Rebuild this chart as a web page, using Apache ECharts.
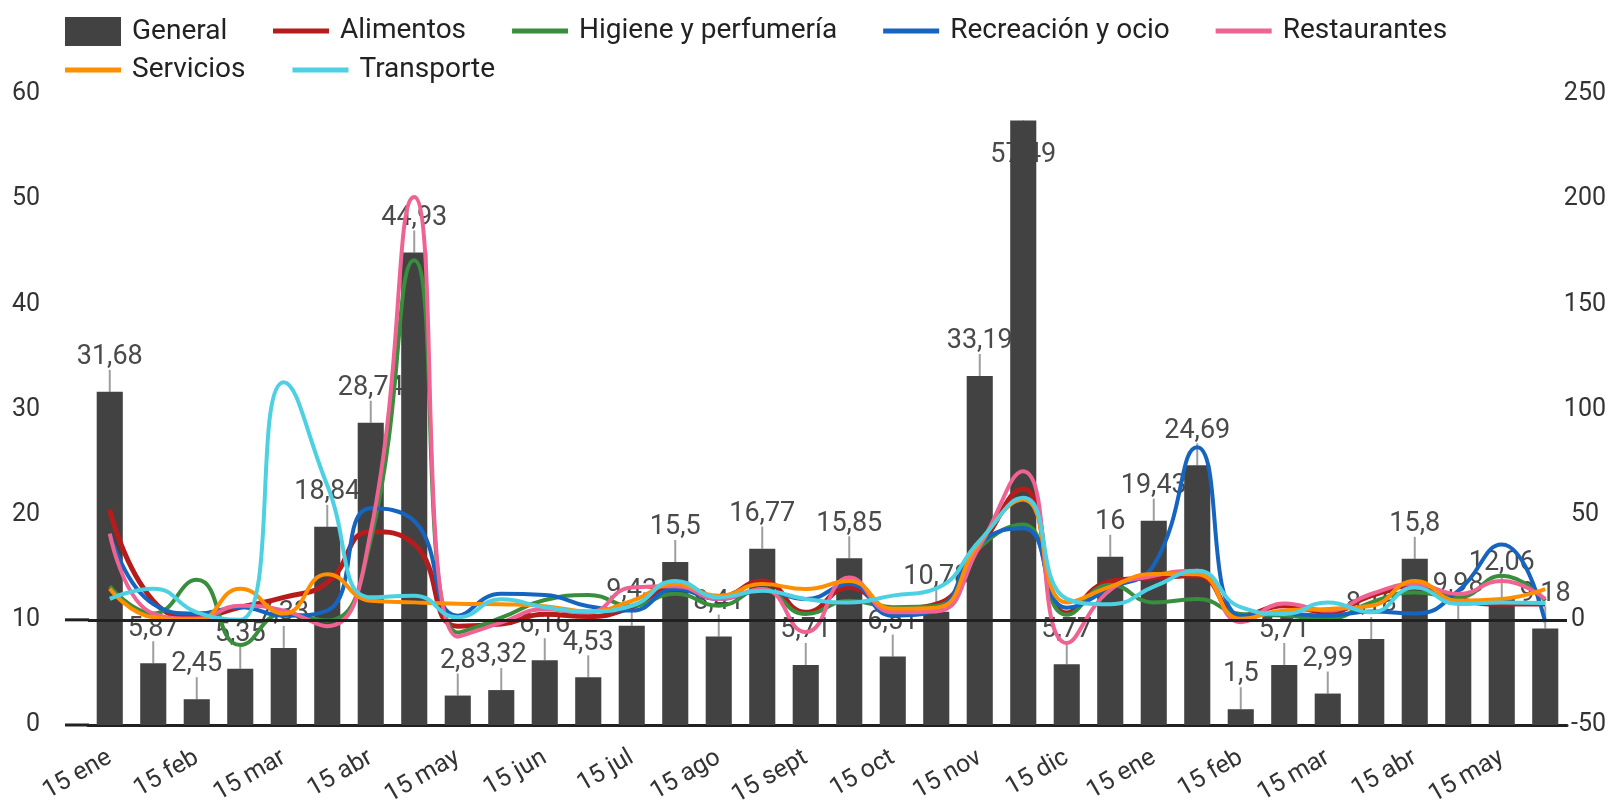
<!DOCTYPE html>
<html>
<head>
<meta charset="utf-8">
<script src="https://cdn.jsdelivr.net/npm/echarts@6/dist/echarts.min.js"></script>
<style>
  html, body { margin: 0; background: #fff; }
  #chart { width: 1612px; height: 800px; }
</style>
</head>
<body>
<div id="chart"></div>
<script>
// quincenas, etiqueta visible cada 2
const categories = ["15 ene", "1 feb", "15 feb", "1 mar", "15 mar", "1 abr", "15 abr", "1 may", "15 may", "1 jun",
  "15 jun", "1 jul", "15 jul", "1 ago", "15 ago", "1 sept", "15 sept", "1 oct", "15 oct", "1 nov",
  "15 nov", "1 dic", "15 dic", "1 ene", "15 ene", "1 feb", "15 feb", "1 mar", "15 mar", "1 abr",
  "15 abr", "1 may", "15 may", "1 jun"];

const general = [31.68, 5.87, 2.45, 5.35, 7.33, 18.84, 28.74, 44.93, 2.8, 3.32, 6.16, 4.53, 9.43, 15.5, 8.41, 16.77, 5.71,
  15.85, 6.51, 10.78, 33.19, 57.49, 5.77, 16, 19.43, 24.69, 1.5, 5.71, 2.99, 8.18, 15.8, 9.98, 12.06, 9.18];

const alimentos = [52.4, 9, 1.5, 6, 10.7, 17.7, 42, 36, -3, -2, 2.6, 1.6, 6, 15.4, 10.7, 18.5, 3.6,
  15.4, 5.3, 7.4, 34.4, 62.2, 3.2, 18.4, 20, 20.9, 2, 6.7, 3.6, 11.5, 16.2, 9.9, 7.5, 7.5];
const higiene = [16, 3, 19, -12, 3, -0.3, 38, 171, -6, 1, 9.4, 11.8, 6.7, 12.4, 6.7, 14.7, 2.8,
  9.1, 6, 6.7, 34.4, 45.3, 2.4, 16.7, 8.3, 9.9, 2.8, 2, 0.5, 8.3, 13, 10.7, 20.9, 9.1];
const recreacion = [41, 7.5, 3, 6, 2, 4.4, 53, 47, 2, 12.4, 11.8, 6.5, 4.4, 14.7, 9.9, 13.8, 9.9,
  17, 2, 4.9, 36, 43.6, 5.8, 15, 26, 82, 2, 2.8, 2, 4, 3, 13.8, 35.8, -1];
const restaurantes = [41, 3, 0.6, 6.7, 4.4, -3, 42, 201, -8, -1.3, 5, 3.5, 15.4, 16, 9.9, 14.7, -5.8,
  20.1, 3.6, 4, 35.2, 70.6, -11, 14.2, 20.9, 23.3, -1.1, 7.8, 4.4, 12.3, 17, 12.3, 18.5, 9.9];
const servicios = [14.8, 1.2, 0, 14.8, 3, 21.7, 9.1, 8.3, 7.7, 7.4, 6.5, 4, 9, 17, 11.5, 17, 14.6,
  18.5, 5.3, 5.8, 37, 57.2, 8.3, 15.8, 21.8, 21.7, 0.5, 4.4, 5.2, 6.7, 18.5, 9.1, 9.9, 14.6];
const transporte = [10, 14.8, 3.6, 0, 113, 64, 10.7, 11.5, 1.2, 9.8, 6, 4, 6.7, 18.5, 10.7, 13.8, 9.9,
  8.3, 11.5, 15, 37.7, 58, 10, 7.4, 15.8, 23.3, 6, 2.8, 8.3, 3.6, 15.4, 7.5, 8.3, 8];

const fmt = (v) => String(v).replace(".", ",");
const FONT = "Roboto";

const chart = echarts.init(document.getElementById("chart"));

function lineSeries(name, data, color, width) {
  return {
    name: name,
    type: "line",
    yAxisIndex: 1,
    data: data,
    smooth: true,
    showSymbol: false,
    symbol: "none",
    z: 3,
    color: color,
    lineStyle: { color: color, width: width },
  };
}

const legendText = { fontFamily: FONT, fontSize: 28, color: "#222", padding: [0, 0, 0, 6] };

chart.setOption({
  animation: false,
  textStyle: { fontFamily: FONT },
  legend: [
    { data: ["General"], left: 65, top: 17, padding: 0, icon: "rect", itemWidth: 56, itemHeight: 29, textStyle: legendText },
    { data: ["Alimentos", "Higiene y perfumería", "Recreación y ocio", "Restaurantes"], left: 273, top: 17, padding: 0,
      icon: "rect", itemWidth: 56, itemHeight: 5, itemGap: 46, textStyle: legendText },
    { data: ["Servicios", "Transporte"], left: 65, top: 56, padding: 0, icon: "rect",
      itemWidth: 56, itemHeight: 5, itemGap: 47, textStyle: legendText },
  ],
  grid: { left: 88, right: 45, top: 94, bottom: 75, outerBoundsMode: "none" },
  xAxis: {
    type: "category",
    data: categories,
    axisTick: { show: false },
    axisLine: { onZero: false, lineStyle: { color: "#212121", width: 3 } },
    axisLabel: { interval: 1, rotate: 30, fontSize: 25, color: "#333", margin: 31 },
  },
  yAxis: [
    {
      type: "value", min: 0, max: 60, interval: 10,
      splitLine: { show: false }, axisLine: { show: false }, axisTick: { show: false },
      axisLabel: { fontSize: 25, color: "#333", margin: 48 },
    },
    {
      type: "value", min: -50, max: 250, interval: 50, position: "right",
      splitLine: { show: false }, axisLine: { show: false }, axisTick: { show: false },
      // etiquetas cortas alineadas a la izquierda, las largas pegadas al borde
      axisLabel: {
        fontSize: 25, color: "#333", margin: 39, align: "right",
        formatter: (v) => (String(v).length < 3 ? "{s|" + v + "}" : String(v)),
        rich: { s: { width: 35, align: "left", fontSize: 25, color: "#333", fontFamily: FONT } },
      },
    },
  ],
  series: [
    {
      name: "General",
      type: "bar",
      data: general,
      barWidth: "60%",
      z: 2,
      itemStyle: { color: "#424242" },
      markLine: {
        silent: true,
        symbol: "none",
        label: { show: false },
        lineStyle: { color: "#212121", width: 3, type: "solid" },
        data: [{ yAxis: 10 }],
      },
    },
    {
      // etiquetas con linea guia
      name: "etiquetas",
      type: "custom",
      z: 1,
      data: general.map((v, i) => [i, v]),
      encode: { x: 0, y: 1 },
      renderItem: function (params, api) {
        const pt = api.coord([api.value(0), api.value(1)]);
        const flip = pt[1] - 60 < params.coordSys.y;
        const dir = flip ? 1 : -1;
        return {
          type: "group",
          children: [
            { type: "line", shape: { x1: pt[0], y1: pt[1], x2: pt[0], y2: pt[1] + dir * 22 },
              style: { stroke: "#9e9e9e", lineWidth: 2 } },
            { type: "text", x: pt[0], y: pt[1] + dir * 21,
              style: { text: fmt(general[params.dataIndex]), align: "center",
                verticalAlign: flip ? "top" : "bottom", fill: "#4a4a4a", font: "27px Roboto" } },
          ],
        };
      },
    },
    lineSeries("Alimentos", alimentos, "#b71c1c", 5),
    lineSeries("Higiene y perfumería", higiene, "#388e3c", 4),
    lineSeries("Recreación y ocio", recreacion, "#1565c0", 4),
    lineSeries("Restaurantes", restaurantes, "#f06292", 4),
    lineSeries("Servicios", servicios, "#ff8f00", 4),
    lineSeries("Transporte", transporte, "#4dd0e1", 4),
  ],
});

// las lineas horizontales empiezan un poco antes del area de barras
const yZero = chart.convertToPixel({ yAxisIndex: 1 }, 0);
const yBase = chart.convertToPixel({ yAxisIndex: 0 }, 0);
chart.setOption({
  graphic: [
    { type: "line", shape: { x1: 65, y1: yZero, x2: 89, y2: yZero }, style: { stroke: "#212121", lineWidth: 3 } },
    { type: "line", shape: { x1: 65, y1: yBase, x2: 89, y2: yBase }, style: { stroke: "#212121", lineWidth: 3 } },
  ],
});
</script>
</body>
</html>
